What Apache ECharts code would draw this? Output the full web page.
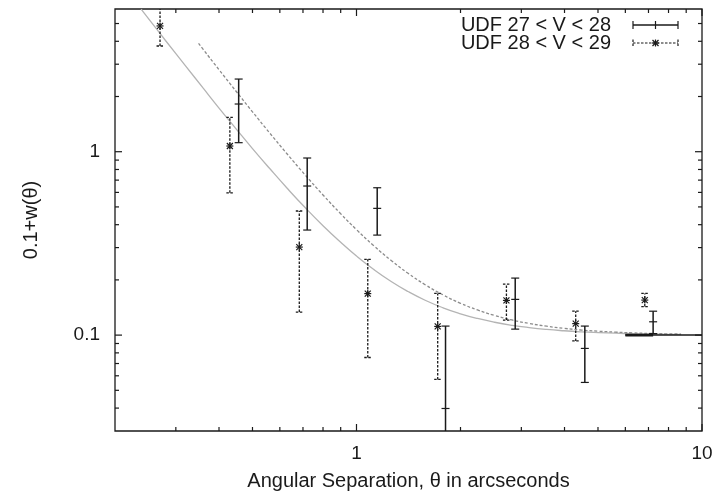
<!DOCTYPE html>
<html><head><meta charset="utf-8">
<script src="https://cdn.jsdelivr.net/npm/echarts@6/dist/echarts.min.js"></script>
<style>html,body{margin:0;padding:0;background:#fff}#c{width:726px;height:492px}</style>
</head><body><div id="c"></div>
<script>
// ---- axis limits & tick values ----
const xMin = 0.2, xMax = 10;
const yMin = 0.03, yMax = 6;
const xLabelValues = [1, 10];
const yLabelValues = [0.1, 1];
const xMajorTicks = [1, 10];
const xMinorTicks = [0.3,0.4,0.5,0.6,0.7,0.8,0.9,2,3,4,5,6,7,8,9];
const yMajorTicks = [0.1, 1];
const yMinorTicks = [0.04,0.05,0.06,0.07,0.08,0.09,0.2,0.3,0.4,0.5,0.6,0.7,0.8,0.9,2,3,4,5];

// ---- UDF 27 < V < 28 ----
const s1Theta = [0.456, 0.720, 1.148, 1.81, 2.88, 4.58, 7.22];
const s1Val   = [1.82, 0.650, 0.491, 0.0398, 0.1566, 0.0846, 0.1182];
const s1Lo    = [1.12, 0.374, 0.351, 0.02, 0.1078, 0.0552, 0.1019];
const s1Hi    = [2.49, 0.924, 0.636, 0.112, 0.2046, 0.112, 0.135];

// ---- UDF 28 < V < 29 ----
const s2Theta = [0.270, 0.430, 0.683, 1.078, 1.718, 2.716, 4.31, 6.83];
const s2Val   = [4.85, 1.074, 0.302, 0.1684, 0.1115, 0.1546, 0.1155, 0.1552];
const s2Lo    = [3.77, 0.597, 0.1335, 0.0755, 0.0573, 0.1207, 0.093, 0.143];
const s2Hi    = [6.5, 1.54, 0.475, 0.259, 0.1688, 0.1898, 0.135, 0.1688];

// ---- fitted curves ----
const fitTheta = [0.238,0.25,0.28,0.32,0.36,0.40,0.45,0.50,0.56,0.63,0.71,0.80,0.90,1.00,1.12,1.26,1.41,1.58,1.78,2.0,2.24,2.51,2.82,3.16,3.55,3.98,4.47,5.01,5.62,6.31,7.08,7.94,8.7];
const fitLowVal = [5.99,5.32,4.04,2.94,2.22,1.73,1.32,1.04,0.812,0.632,0.496,0.395,0.321,0.27,0.2285,0.196,0.1728,0.1549,0.1409,0.1307,0.1232,0.1175,0.1131,0.1099,0.1074,0.1056,0.1042,0.1032,0.1024,0.1018,0.1014,0.101,0.1008];
const fitUpTheta = [0.349,0.36,0.40,0.45,0.50,0.56,0.63,0.71,0.80,0.90,1.00,1.12,1.26,1.41,1.58,1.78,2.0,2.24,2.51,2.82,3.16,3.55,3.98,4.47,5.01,5.62,6.31,7.08,7.94,8.7];
const fitUpVal = [3.896,3.613,2.80,2.116,1.65,1.269,0.972,0.7475,0.581,0.4588,0.376,0.3082,0.2552,0.2173,0.1883,0.1657,0.1491,0.1371,0.1279,0.1209,0.1157,0.1118,0.1089,0.1066,0.105,0.1038,0.1028,0.1021,0.1016,0.1013];

// ---- baseline segment at 0.1 ----
const baseTheta = [6.0, 10];
const baseVal = [0.1, 0.1];
const baseThickTheta = [6.0, 7.22];
const baseThickVal = [0.1, 0.1];

const legendNames = ['UDF 27 < V < 28', 'UDF 28 < V < 29'];

const FONT = '"Liberation Sans", Arial, Helvetica, sans-serif';
const INK = '#1a1a1a';

const zip = (a, b) => a.map((v, i) => [v, b[i]]);
const zip4 = (a, b, c, d) => a.map((v, i) => [v, b[i], c[i], d[i]]);

function fmtLabel(list) {
  return function (v) {
    for (const t of list) { if (Math.abs(Math.log10(v) - Math.log10(t)) < 1e-6) return String(t); }
    return '';
  };
}

function tickRender(params, api) {
  const cs = params.coordSys;
  const L = cs.x, R = cs.x + cs.width, T = cs.y, B = cs.y + cs.height;
  const style = { stroke: INK, lineWidth: 1.2 };
  const ch = [];
  const add = (x1, y1, x2, y2) => ch.push({ type: 'line', shape: { x1, y1, x2, y2 }, style });
  const xt = (list, len) => list.forEach(v => { const p = api.coord([v, yMin])[0]; add(p, B, p, B - len); add(p, T, p, T + len); });
  const yt = (list, len) => list.forEach(v => { const p = api.coord([xMin, v])[1]; add(L, p, L + len, p); add(R, p, R - len, p); });
  xt(xMajorTicks, 7); xt(xMinorTicks, 4);
  yt(yMajorTicks, 7); yt(yMinorTicks, 4);
  return { type: 'group', children: ch };
}

function errRender(dashed, marker) {
  return function (params, api) {
    const cs = params.coordSys;
    const T = cs.y, B = cs.y + cs.height;
    const x = api.value(0), y = api.value(1), lo = api.value(2), hi = api.value(3);
    const pc = api.coord([x, y]), pl = api.coord([x, lo]), ph = api.coord([x, hi]);
    const px = pc[0];
    const yl = Math.min(pl[1], B), yh = Math.max(ph[1], T);
    const style = dashed ? { stroke: INK, lineWidth: 1.3, lineDash: [2.5, 1.5] } : { stroke: INK, lineWidth: 1.5 };
    const solid = { stroke: INK, lineWidth: 1.2 };
    const ch = [];
    ch.push({ type: 'line', shape: { x1: px, y1: yl, x2: px, y2: yh }, style });
    const cw = dashed ? 3.5 : 4;
    if (pl[1] <= B) ch.push({ type: 'line', shape: { x1: px - cw, y1: pl[1], x2: px + cw, y2: pl[1] }, style: dashed ? style : solid });
    if (ph[1] >= T) ch.push({ type: 'line', shape: { x1: px - cw, y1: ph[1], x2: px + cw, y2: ph[1] }, style: dashed ? style : solid });
    if (pc[1] >= T && pc[1] <= B) {
      if (marker === 'plus') {
        ch.push({ type: 'line', shape: { x1: px - 4, y1: pc[1], x2: px + 4, y2: pc[1] }, style: solid });
      } else {
        const s = 3.5, d = 3;
        ch.push({ type: 'line', shape: { x1: px - s, y1: pc[1], x2: px + s, y2: pc[1] }, style: solid });
        ch.push({ type: 'line', shape: { x1: px, y1: pc[1] - s, x2: px, y2: pc[1] + s }, style: solid });
        ch.push({ type: 'line', shape: { x1: px - d, y1: pc[1] - d, x2: px + d, y2: pc[1] + d }, style: solid });
        ch.push({ type: 'line', shape: { x1: px - d, y1: pc[1] + d, x2: px + d, y2: pc[1] - d }, style: solid });
      }
    }
    return { type: 'group', children: ch };
  };
}

// legend graphic (layout only)
const lgX = 611, lgY1 = 25, lgY2 = 43, lgL = 633, lgR = 678, lgC = 655.5;
const lgSolid = { stroke: INK, lineWidth: 1.5 };
const lgDash = { stroke: INK, lineWidth: 1.2, lineDash: [2.5, 1.5] };
const lgThin = { stroke: INK, lineWidth: 1.2 };
const legendGraphic = [
  { type: 'text', x: lgX, y: lgY1, style: { text: legendNames[0], font: '20px ' + FONT, fill: INK, align: 'right', verticalAlign: 'middle' } },
  { type: 'text', x: lgX, y: lgY2, style: { text: legendNames[1], font: '20px ' + FONT, fill: INK, align: 'right', verticalAlign: 'middle' } },
  { type: 'line', shape: { x1: lgL, y1: lgY1, x2: lgR, y2: lgY1 }, style: lgSolid },
  { type: 'line', shape: { x1: lgL, y1: lgY1 - 4, x2: lgL, y2: lgY1 + 4 }, style: lgThin },
  { type: 'line', shape: { x1: lgR, y1: lgY1 - 4, x2: lgR, y2: lgY1 + 4 }, style: lgThin },
  { type: 'line', shape: { x1: lgC, y1: lgY1 - 4, x2: lgC, y2: lgY1 + 4 }, style: lgThin },
  { type: 'line', shape: { x1: lgL, y1: lgY2, x2: lgR, y2: lgY2 }, style: lgDash },
  { type: 'line', shape: { x1: lgL, y1: lgY2 - 3.5, x2: lgL, y2: lgY2 + 3.5 }, style: lgDash },
  { type: 'line', shape: { x1: lgR, y1: lgY2 - 3.5, x2: lgR, y2: lgY2 + 3.5 }, style: lgDash },
  { type: 'line', shape: { x1: lgC - 3.5, y1: lgY2, x2: lgC + 3.5, y2: lgY2 }, style: lgThin },
  { type: 'line', shape: { x1: lgC, y1: lgY2 - 3.5, x2: lgC, y2: lgY2 + 3.5 }, style: lgThin },
  { type: 'line', shape: { x1: lgC - 3, y1: lgY2 - 3, x2: lgC + 3, y2: lgY2 + 3 }, style: lgThin },
  { type: 'line', shape: { x1: lgC - 3, y1: lgY2 + 3, x2: lgC + 3, y2: lgY2 - 3 }, style: lgThin }
];

const chart = echarts.init(document.getElementById('c'), null, { renderer: 'canvas' });
chart.setOption({
  animation: false,
  backgroundColor: '#fff',
  grid: { left: 115, right: 24, top: 9, bottom: 61, show: true, borderColor: INK, borderWidth: 1.3, backgroundColor: 'transparent', containLabel: false, outerBoundsMode: 'none' },
  xAxis: {
    type: 'log', logBase: 10, min: xMin, max: xMax,
    axisLine: { show: false }, axisTick: { show: false }, splitLine: { show: false }, minorTick: { show: false },
    axisLabel: { formatter: fmtLabel(xLabelValues), fontSize: 19, fontFamily: FONT, color: INK, margin: 13, showMinLabel: true, showMaxLabel: true, hideOverlap: false },
    name: 'Angular Separation, θ in arcseconds', nameLocation: 'middle', nameGap: 40,
    nameTextStyle: { fontSize: 20, fontFamily: FONT, color: INK }
  },
  yAxis: {
    type: 'log', logBase: 10, min: yMin, max: yMax,
    axisLine: { show: false }, axisTick: { show: false }, splitLine: { show: false }, minorTick: { show: false },
    axisLabel: { formatter: fmtLabel(yLabelValues), fontSize: 19, fontFamily: FONT, color: INK, margin: 15, hideOverlap: false },
    name: '0.1+w(θ)', nameLocation: 'middle', nameGap: 74, nameRotate: 90,
    nameTextStyle: { fontSize: 20, fontFamily: FONT, color: INK }
  },
  graphic: legendGraphic,
  series: [
    { type: 'line', name: 'fitLow', data: zip(fitTheta, fitLowVal), smooth: true, showSymbol: false, symbol: 'none',
      lineStyle: { color: '#b4b4b4', width: 1.3 }, z: 2, silent: true },
    { type: 'line', name: 'fitUp', data: zip(fitUpTheta, fitUpVal), smooth: true, showSymbol: false, symbol: 'none',
      lineStyle: { color: '#8c8c8c', width: 1.3, type: [3, 2] }, z: 2, silent: true },
    { type: 'line', name: 'base', data: zip(baseTheta, baseVal), showSymbol: false, symbol: 'none',
      lineStyle: { color: INK, width: 1.5 }, z: 3, silent: true },
    { type: 'line', name: 'baseThick', data: zip(baseThickTheta, baseThickVal), showSymbol: false, symbol: 'none',
      lineStyle: { color: INK, width: 2.6 }, z: 3, silent: true },
    { type: 'custom', name: legendNames[0], data: zip4(s1Theta, s1Val, s1Lo, s1Hi), renderItem: errRender(false, 'plus'),
      encode: { x: 0, y: 1 }, clip: true, z: 5, silent: true },
    { type: 'custom', name: legendNames[1], data: zip4(s2Theta, s2Val, s2Lo, s2Hi), renderItem: errRender(true, 'star'),
      encode: { x: 0, y: 1 }, clip: true, z: 5, silent: true },
    { type: 'custom', name: 'ticks', data: [[1, 1]], renderItem: tickRender, encode: { x: 0, y: 1 }, z: 6, silent: true }
  ]
});
</script></body></html>
